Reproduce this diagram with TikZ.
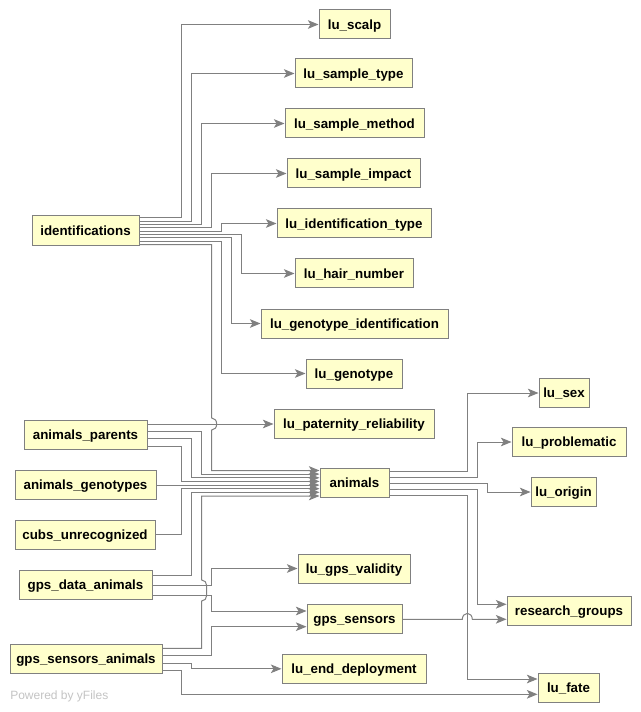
\documentclass[tikz,border=0pt]{standalone}
\usepackage{fontspec}
\setmainfont{Liberation Sans}
\usetikzlibrary{arrows.meta}
\definecolor{boxfill}{HTML}{FFFFCC}
\definecolor{boxline}{HTML}{808080}
\definecolor{wire}{HTML}{808080}
\definecolor{credit}{HTML}{C4C4C4}

\begin{document}
\begin{tikzpicture}[x=0.75pt,y=-0.75pt,
  tbl/.style={draw=boxline, fill=boxfill, line width=0.75pt,
    font=\fontsize{10}{11}\selectfont\bfseries,
    text height=0.72em, text depth=0pt,
    minimum height=29*0.75pt, inner sep=0pt, minimum width=#1*0.75pt},
  conn/.style={draw=wire, line width=0.75pt,
    -{Stealth[length=8pt,width=6.5pt,inset=2pt,fill=wire]}},
]
\fill[white] (0,0) rectangle (640,712);
\useasboundingbox (0,0) rectangle (640,712);

% lookup tables on the right of identifications
\node[tbl=71]  (scalp)   at (354.5,24.5)  {lu\_scalp};
\node[tbl=117] (stype)   at (353.5,73.5)  {lu\_sample\_type};
\node[tbl=139] (smethod) at (354.5,123.5) {lu\_sample\_method};
\node[tbl=133] (simpact) at (353.5,173.5) {lu\_sample\_impact};
\node[tbl=154] (idtype)  at (354,223.5)   {lu\_identification\_type};
\node[tbl=118] (hair)    at (354,273.5)   {lu\_hair\_number};
\node[tbl=187] (genoid)  at (354.5,323.5) {lu\_genotype\_identification};
\node[tbl=96]  (geno)    at (354,373.5)   {lu\_genotype};
\node[tbl=160] (pater)   at (354,423.5)   {lu\_paternity\_reliability};
\node[tbl=69]  (animals) at (354.5,482.5) {animals};
\node[tbl=112] (gpsval)  at (354,568.5)   {lu\_gps\_validity};
\node[tbl=95]  (gpss)    at (354.5,618.5) {gps\_sensors};
\node[tbl=144] (enddep)  at (354,668.8)   {lu\_end\_deployment};

% source tables on the left
\node[tbl=107, minimum height=30*0.75pt] (ident) at (85.5,231) {identifications};
\node[tbl=123] (aparents)   at (85.5,434.5) {animals\_parents};
\node[tbl=141] (agenotypes) at (85.5,484.5) {animals\_genotypes};
\node[tbl=140] (cubs)       at (85,534.5)   {cubs\_unrecognized};
\node[tbl=133] (gpsdata)    at (85.5,584.5) {gps\_data\_animals};
\node[tbl=152] (gpssa)      at (86,658.5)   {gps\_sensors\_animals};

% lookups of animals
\node[tbl=50]  (sex)     at (564,393)     {lu\_sex};
\node[tbl=114] (probl)   at (569,442)     {lu\_problematic};
\node[tbl=65]  (origin)  at (563.5,492)   {lu\_origin};
\node[tbl=124] (rgroups) at (569,610.5)   {research\_groups};
\node[tbl=61]  (fate)    at (568.5,687.5) {lu\_fate};

% identifications
\draw[conn] (ident.east|-0,218)   -- (181.7,218)   |- (scalp);
\draw[conn] (ident.east|-0,221.3) -- (191.7,221.3) |- (stype);
\draw[conn] (ident.east|-0,224.7) -- (201.7,224.7) |- (smethod);
\draw[conn] (ident.east|-0,228)   -- (211.7,228)   |- (simpact);
\draw[conn] (ident.east|-0,231.3) -- (221.7,231.3) |- (idtype);
\draw[conn] (ident.east|-0,234.7) -- (241.7,234.7) |- (hair);
\draw[conn] (ident.east|-0,238)   -- (231.7,238)   |- (genoid);
\draw[conn] (ident.east|-0,241.3) -- (221.7,241.3) |- (geno);
\draw[conn] (ident.east|-0,244.7) -- (211.7,244.7) -- (211.7,418)
  .. controls (214.5,418) and (216.7,420.5) .. (216.7,424)
  .. controls (216.7,427.5) and (214.5,430) .. (211.7,430)
  -- (211.7,470.5) -- (animals.west|-0,470.5);

% animals_parents
\draw[conn] (aparents.east|-0,424) -- (pater.west|-0,424);
\draw[conn] (aparents.east|-0,431.3) -- (201.7,431.3) |- (animals.west|-0,474.1);
\draw[conn] (aparents.east|-0,438.7) -- (191.7,438.7) |- (animals.west|-0,477.8);
\draw[conn] (aparents.east|-0,446)   -- (181.7,446)   |- (animals.west|-0,481.4);

% animals_genotypes and cubs_unrecognized
\draw[conn] (agenotypes.east|-0,485.1) -- (animals.west|-0,485.1);
\draw[conn] (cubs.east|-0,534.5) -- (181.7,534.5) |- (animals.west|-0,488.7);

% gps_data_animals
\draw[conn] (gpsdata.east|-0,575) -- (191.7,575) |- (animals.west|-0,492.3);
\draw[conn] (gpsdata.east|-0,585) -- (211.7,585) |- (gpsval);
\draw[conn] (gpsdata.east|-0,595) -- (211.7,595) |- (gpss.west|-0,611);

% gps_sensors_animals
\draw[conn] (gpssa.east|-0,648.3) -- (201.7,648.3) -- (201.7,601)
  .. controls (204.5,601) and (206.7,598.5) .. (206.7,595.5)
  -- (206.7,585.5)
  .. controls (206.7,582.5) and (204.5,580) .. (201.7,580)
  -- (201.7,496) -- (animals.west|-0,496);
\draw[conn] (gpssa.east|-0,655)   -- (211.7,655) |- (gpss.west|-0,626.7);
\draw[conn] (gpssa.east|-0,663.3) -- (191.7,663.3) |- (enddep);
\draw[conn] (gpssa.east|-0,670)   -- (181.7,670) |- (fate.west|-0,694.3);

% animals
\draw[conn] (animals.east|-0,471)   -- (467.3,471)   |- (sex);
\draw[conn] (animals.east|-0,477)   -- (477.3,477)   |- (probl);
\draw[conn] (animals.east|-0,483.3) -- (487.3,483.3) |- (origin);
\draw[conn] (animals.east|-0,489.3) -- (477.3,489.3) |- (rgroups.west|-0,604.3);
\draw[conn] (animals.east|-0,495)   -- (467.3,495)   |- (fate.west|-0,679);

% gps_sensors
\draw[conn] (gpss.east|-0,619.3) -- (462.3,619.3)
  .. controls (462.3,616) and (464.5,613.3) .. (467.3,613.3)
  .. controls (470.1,613.3) and (472.3,616) .. (472.3,619.3)
  -- (rgroups.west|-0,619.3);

\node[anchor=base west, text=credit, font=\fontsize{9}{11}\selectfont, inner sep=0pt]
  (credit) at (10,699) {Powered by yFiles};
\end{tikzpicture}
\end{document}
